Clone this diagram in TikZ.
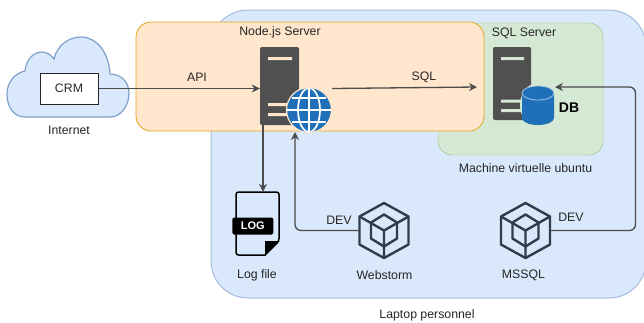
\documentclass[tikz,border=0pt]{standalone}
\usepackage{fontspec}
\usetikzlibrary{arrows.meta}
\setmainfont{Liberation Sans}
\definecolor{bluefill}{HTML}{DAE8FC}
\definecolor{blueline}{HTML}{A3BBDD}
\definecolor{cloudline}{HTML}{7F9FCB}
\definecolor{peachfill}{HTML}{FFE6CC}
\definecolor{peachline}{HTML}{E3A51E}
\definecolor{greenfill}{HTML}{D5E8D4}
\definecolor{greenline}{HTML}{8DBB70}
\definecolor{srvgrey}{HTML}{505050}
\definecolor{iconblue}{HTML}{1F70B8}
\definecolor{hexline}{HTML}{2F3D4A}
\tikzset{
	lbl/.style={font=\fontsize{12.3}{14}\selectfont,inner sep=0pt,text=black!85},
	link/.style={-{Stealth[length=8pt,width=8pt]},draw=black!70,line width=1.3pt,rounded corners=6pt},
	srvbox/.style={fill=srvgrey,rounded corners=2pt,inner sep=0pt,minimum width=39pt},
	hexbox/.style={inner sep=0pt,minimum width=49pt,minimum height=56pt},
}
\begin{document}
\begin{tikzpicture}[x=1pt,y=-1pt]
	\useasboundingbox (0,0) rectangle (644,322);
	% the three zones
	\draw[fill=bluefill,draw=blueline,line width=1pt,rounded corners=37pt] (211,10) rectangle (646,298);
	\draw[fill=greenfill,draw=greenline,rounded corners=14pt] (438,23) rectangle (603,155);
	\draw[fill=peachfill,draw=peachline,line width=0.8pt,rounded corners=15pt] (136,22) rectangle (484,131);
	% cloud
	\draw[fill=bluefill,draw=cloudline,line width=1.2pt] (25,117) .. controls (13,117) and (7,106) .. (7,94)
		.. controls (7,82) and (15,73) .. (25,71) .. controls (26,60) and (33,52) .. (42,52)
		.. controls (47,52) and (51,55) .. (54,59) .. controls (57,46) and (68,37) .. (81,37)
		.. controls (97,37) and (109,53) .. (110,74) .. controls (121,74) and (129,82) .. (129,93)
		.. controls (129,106) and (121,117) .. (110,117) -- cycle;
	\node[draw=black!85,fill=white,line width=1pt,inner sep=0pt,minimum width=58pt,minimum height=31pt,lbl] (crm) at (69,88.5) {CRM};
	% node server
	\node[srvbox,minimum height=78pt] (nodesrv) at (279.5,86) {};
	\fill[peachfill] (268,57) rectangle (292,60) (268,103) rectangle (288,106) (268,113) rectangle (288,116);
	\node[circle,fill=iconblue,draw=peachfill,line width=1.2pt,inner sep=0pt,minimum size=45pt] (globe) at (309,110) {};
	\begin{scope}
		\clip (globe) circle (22pt);
		\draw[white,line width=1.7pt] (309,88) -- (309,132) (287,110) -- (331,110) (292,98) -- (326,98) (292,122) -- (326,122);
		\draw[white,line width=1.7pt] (309,110) ellipse (11pt and 22pt);
	\end{scope}
	% sql server
	\node[srvbox,minimum width=38pt,minimum height=73pt] (sqlsrv) at (512,83.5) {};
	\fill[greenfill] (501,57) rectangle (524,60) (501,99.5) rectangle (522,102.5) (501,109) rectangle (522,112);
	\fill[greenfill] (538,105) ellipse (18pt and 22pt);
	\fill[iconblue] (522,93) -- (522,118) arc[start angle=180,end angle=0,x radius=16pt,y radius=-7pt] -- (554,93) -- cycle;
	\fill[iconblue] (538,93) ellipse (16pt and 7pt);
	\draw[white!60!iconblue,line width=0.8pt] (538,93) ellipse (16pt and 7pt);
	\node[inner sep=0pt,minimum width=32pt,minimum height=39pt] (db) at (538,105.5) {};
	\node[lbl,font=\fontsize{14}{15}\selectfont\bfseries,text=black] (dbtxt) at (569,108) {DB};
	% log file
	\node[inner sep=0pt,minimum width=44pt,minimum height=64pt] (logfile) at (257.5,224) {};
	\draw[black,line width=1.5pt,line join=round,rounded corners=2.5pt] (265,255) -- (236,255) -- (236,192) -- (279,192) -- (279,241) -- (265,255);
	\fill[black] (265,255.5) -- (265,241) -- (279.5,241) -- cycle;
	\node[fill=black,rounded corners=1.5pt,text=white,inner sep=0pt,minimum width=41pt,minimum height=17pt,font=\fontsize{11}{13}\selectfont\bfseries] (logtag) at (252.8,226) {LOG};
	% hexagon icons
	\foreach \hexname/\hx/\hy in {webstorm/384/230.5,mssql/525.5/230.5}{
		\node[hexbox] (\hexname) at (\hx,\hy) {};
		\begin{scope}[shift={(\hx,\hy)},draw=hexline,line width=2.4pt,line join=round]
			\draw (0,-27.5) -- (24.5,-14) -- (24.5,14) -- (0,27.5) -- (-24.5,14) -- (-24.5,-14) -- cycle;
			\draw (0,-16) -- (13,-8) -- (13,8) -- (0,16) -- (-13,8) -- (-13,-8) -- cycle;
			\draw (-24.5,-14) -- (0,0) -- (24.5,-14) (0,0) -- (0,27.5);
		\end{scope}
	}
	% connectors
	\coordinate (logout) at (263,125);
	\coordinate (sqlin) at (477,87);
	\coordinate (webin) at (295,132);
	\coordinate (dbin) at (555,87);
	\coordinate (bend) at (635.5,230.5);
	\draw[link] (crm.east) -- (crm.east -| nodesrv.west);
	\draw[link] (globe.east |- 0,88.5) -- (sqlin);
	\draw[link] (logout) -- (logout |- logfile.north);
	\draw[link] (webstorm.west) -- (webin |- webstorm.west) -- (webin);
	\draw[link] (mssql.east) -- (bend) -- (bend |- dbin) -- (dbin);
	% labels
	\node[lbl] (apilbl) at (197,77) {API};
	\node[lbl] (sqllbl) at (424,77) {SQL};
	\node[lbl] (nodelbl) at (280,32) {Node.js Server};
	\node[lbl] (sqlsrvlbl) at (524,33) {SQL Server};
	\node[lbl] (inetlbl) at (69,130.5) {Internet};
	\node[lbl] (vmlbl) at (525.5,168.5) {Machine virtuelle ubuntu};
	\node[lbl] (laptoplbl) at (427,315) {Laptop personnel};
	\node[lbl] (loglbl) at (257,275.5) {Log file};
	\node[lbl] (weblbl) at (384.5,275.5) {Webstorm};
	\node[lbl] (mssqllbl) at (523.5,275.5) {MSSQL};
	\node[lbl] (devalbl) at (339,220) {DEV};
	\node[lbl] (devblbl) at (571,217) {DEV};
\end{tikzpicture}
\end{document}
